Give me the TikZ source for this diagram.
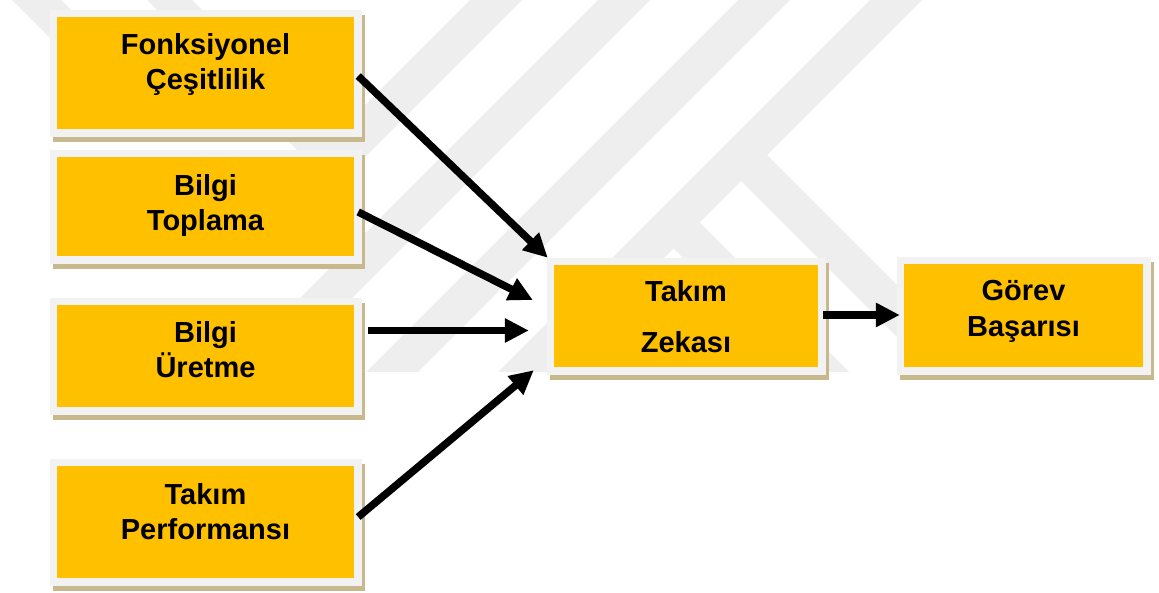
\documentclass[tikz,border=0pt]{standalone}
\usepackage{fontspec}
\setmainfont{Liberation Sans}
\usetikzlibrary{arrows.meta,backgrounds}
\definecolor{boxfill}{HTML}{FFC000}
\definecolor{boxframe}{HTML}{F2F2F2}
\definecolor{boxshade}{HTML}{C8B88E}
\definecolor{markgray}{HTML}{EEEEEE}
\pgfdeclarelayer{mark}
\pgfsetlayers{mark,background,main}
% light frame and offset shadow behind a panel node
\newcommand\panelback[1]{%
  \fill[boxshade] ([shift={(-4,-2)}]#1.north west) rectangle ([shift={(11,13)}]#1.south east);
  \fill[boxframe] ([shift={(-7,-7)}]#1.north west) rectangle ([shift={(8,8)}]#1.south east);
}
\begin{document}
\begin{tikzpicture}[x=1pt,y=-1pt,
  panel/.style 2 args={fill=boxfill, inner sep=0pt, minimum width=#1, minimum height=#2},
  caption/.style={inner sep=0pt, align=center, anchor=north,
    font=\bfseries\fontsize{29}{35}\selectfont},
  arr/.style={line width=7.5pt, -{Triangle[length=24pt,width=23pt]}}]
\useasboundingbox (0,0) rectangle (1159,593);

% faint background emblem
\begin{pgfonlayer}{mark}
  \begin{scope}
    \clip (0,0) rectangle (1159,372);
    \fill[markgray] (12,0) -- (61,0) -- (191,130) -- (142,130) -- cycle;
    \fill[markgray] (147,0) -- (334.5,187.5) -- (522,0) -- (470,0) -- (331,139) -- (192,0) -- cycle;
    \fill[markgray] (598,0) -- (650,0) -- (278,372) -- (226,372) -- cycle;
    \fill[markgray] (738,0) -- (790,0) -- (418,372) -- (366,372) -- cycle;
    \fill[markgray] (870,0) -- (922,0) -- (550,372) -- (498,372) -- cycle;
    \fill[markgray] (767,155) -- (741,181) -- (932,372) -- (984,372) -- cycle;
    \fill[markgray] (699.5,222.5) -- (673.5,248.5) -- (797,372) -- (849,372) -- cycle;
  \end{scope}
\end{pgfonlayer}

% panels
\node[panel={297pt}{112pt}] (B1) at (205.5,73) {};
\node[panel={297pt}{99pt}]  (B2) at (205.5,206.5) {};
\node[panel={297pt}{102pt}] (B3) at (205.5,356) {};
\node[panel={297pt}{112pt}] (B4) at (205.5,522) {};
\node[panel={264pt}{102pt}] (M)  at (686,316) {};
\node[panel={239pt}{103pt}] (G)  at (1023.5,315.5) {};

\begin{pgfonlayer}{background}
  \panelback{B1}\panelback{B2}\panelback{B3}\panelback{B4}\panelback{M}\panelback{G}
\end{pgfonlayer}

% captions
\node[caption] (B1t) at ([shift={(0,16)}]B1.north) {Fonksiyonel\\Çeşitlilik};
\node[caption] (B2t) at ([shift={(0,17)}]B2.north) {Bilgi\\Toplama};
\node[caption] (B3t) at ([shift={(0,16)}]B3.north) {Bilgi\\Üretme};
\node[caption] (B4t) at ([shift={(0,17)}]B4.north) {Takım\\Performansı};
\node[caption, font=\bfseries\fontsize{29}{51}\selectfont] (Mt) at ([shift={(0,15)}]M.north) {Takım\\Zekası};
\node[caption, font=\bfseries\fontsize{29}{36}\selectfont] (Gt) at ([shift={(0,16)}]G.north) {Görev\\Başarısı};

% connectors
\draw[arr] ([shift={(4,3)}]B1.east) -- ([shift={(-6,-7)}]M.north west);
\draw[arr] ([shift={(4,5.5)}]B2.east) -- ([shift={(-21,-16)}]M.west);
\draw[arr] ([shift={(14,-25.5)}]B3.east) -- ([shift={(-25,14.5)}]M.west);
\draw[arr] ([shift={(4,-5)}]B4.east) -- ([shift={(-20,3)}]M.south west);
\draw[arr] ([shift={(5,-1)}]M.east) -- ([shift={(-4,-0.5)}]G.west);
\end{tikzpicture}
\end{document}
